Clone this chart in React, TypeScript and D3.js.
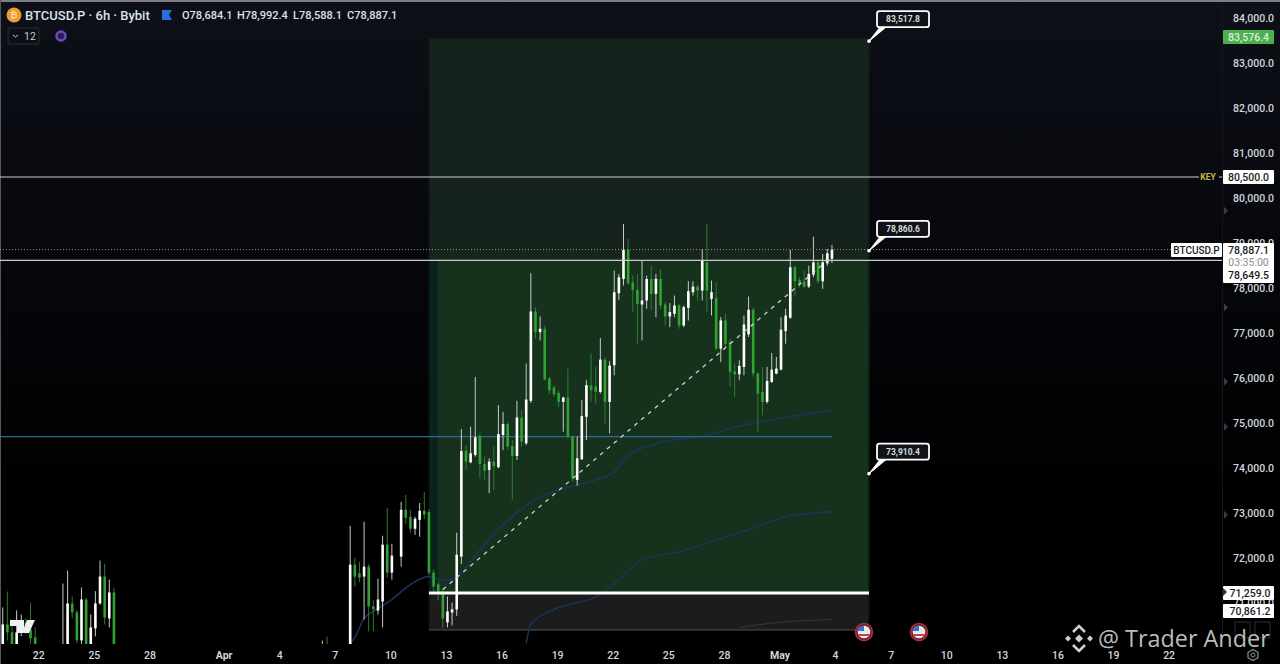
import * as d3 from "d3";

type Ohlc = [number, number, number, number];

// Candles as open, high, low, close. null = no visible bar.
const marchStart = "2025-03-20T00:00:00Z";
const marchCandles: (Ohlc | null)[] = [
  [69800, 70937, 69800, 70561], [70561, 71292, 70200, 70384], [70384, 70672, 69800, 69900], [69900, 70871, 69800, 70384],
  [70384, 70782, 70300, 70600], [70600, 70700, 70350, 70450], [70450, 71048, 70100, 70250], [70273, 70500, 69800, 69900],
  null, null, null, null, null,
  [69800, 71469, 69800, 69850], [69900, 71757, 69800, 71026], [71026, 71181, 70700, 70827], [70827, 70880, 70140, 70207],
  [70207, 71380, 70100, 71115], [71115, 71150, 69800, 69900], [69900, 70782, 69800, 70495], [70473, 71300, 70295, 71026],
  [71026, 71978, 71000, 71624], [71624, 71911, 70561, 70716], [70694, 71557, 70495, 71270], [71270, 71380, 69800, 69900],
];

const earlyAprilStart = "2025-04-06T06:00:00Z";
const earlyAprilCandles: (Ohlc | null)[] = [
  [70000, 70200, 69800, 70050], [70050, 70290, 69800, 70000],
];

const aprilStart = "2025-04-07T18:00:00Z";
const aprilCandles: (Ohlc | null)[] = [
  [69900, 72753, 69800, 71889], [71889, 72044, 71402, 71624], [71700, 71950, 71500, 71600], [71624, 72841, 70672, 71845],
  [71845, 71900, 70406, 70960], [70960, 71100, 70400, 70900], [70870, 71579, 70782, 71115], [71070, 72531, 70495, 72332],
  [72332, 73151, 71600, 71712], [71712, 72354, 71557, 72089], null, [72067, 73284, 71845, 73107],
  [73107, 73439, 72800, 72930], [72950, 73100, 72600, 72686], [72686, 72950, 72550, 72908], [72885, 73260, 72509, 73085],
  [73085, 73500, 72900, 73000], [73063, 73130, 71650, 71712], [71712, 71780, 71300, 71402], [71450, 71500, 71100, 71292],
  [71292, 71350, 70480, 70694], [70605, 71181, 70495, 70849], [70827, 71048, 70539, 70893], [70893, 72598, 70750, 72110],
  [72067, 74900, 71900, 74413], [74421, 74546, 73993, 74177], [74162, 74952, 74140, 74362], [74325, 76059, 74290, 74716],
  [74745, 74804, 73808, 74125], [74125, 74288, 73771, 73978], [73993, 74251, 73476, 74177], [74177, 74509, 73550, 74081],
  [74052, 75432, 74030, 74790], [74767, 75284, 74435, 75011], [75011, 75063, 74435, 74509], [74524, 74657, 73328, 74303],
  [74303, 75528, 74214, 75158], [75158, 75321, 74509, 74620], [74583, 76354, 74546, 75557], [75528, 78362, 75483, 77513],
  [77513, 77609, 76908, 77055], [77055, 77402, 76871, 77129], [77129, 77203, 75985, 76000], [76022, 76059, 75690, 75764],
  [75823, 75875, 75616, 75675], [75705, 75764, 75395, 75505], [75505, 75616, 74841, 75601], [75601, 76244, 74694, 74731],
  [74731, 74767, 73734, 73808], [73771, 74731, 73638, 74251], [74229, 75542, 74214, 75188], [75173, 75985, 74657, 75875],
  [75875, 76576, 75505, 75764], [75852, 76280, 75468, 75727], [75727, 76922, 75690, 76443], [76443, 76502, 75026, 75505],
  [75505, 76413, 74804, 76310], [76317, 78421, 76096, 77941], [77919, 78347, 77771, 78273], [78236, 79454, 78088, 78878],
  [78878, 79122, 78111, 78140], [78162, 78310, 77498, 77993], [77993, 78347, 76797, 77683], [77668, 78642, 76871, 77756],
  [77756, 78310, 77572, 78236], [78236, 78531, 77535, 77904], [77904, 78347, 77387, 78236], [78236, 78457, 77572, 77646],
  [77668, 77720, 77203, 77402], [77402, 77697, 77166, 77498], [77461, 77867, 77387, 77646], [77646, 77683, 77129, 77203],
  [77203, 77646, 77166, 77609], [77594, 78184, 77314, 77963], [77941, 78184, 77867, 78066], [78066, 78111, 77756, 77978],
  [77978, 78900, 77756, 78642], [78605, 79454, 77498, 77978], [77793, 78199, 77424, 77941], [77815, 78162, 76649, 76686],
  [76686, 77387, 76391, 77314], [77314, 77461, 76723, 76797], [76834, 76908, 75838, 76170], [76185, 76354, 75616, 76118],
  [76118, 76428, 75985, 76303], [76281, 77424, 76096, 77225], [77004, 77845, 76945, 77550], [77550, 77609, 76059, 76133],
  [76133, 76170, 74841, 75690], [75727, 76280, 75210, 75505], [75505, 76280, 75468, 75970], [75948, 76590, 75926, 76221],
  [76133, 76502, 76118, 76244], [76221, 77387, 76207, 77107], [77077, 77572, 76797, 77424], [77373, 78878, 77350, 78494],
  [78494, 78531, 77867, 78184], [78214, 78273, 78052, 78111], [78184, 78421, 78037, 78066], [78066, 78531, 78037, 78347],
  [78332, 79173, 78273, 78605], [78605, 78679, 78140, 78184], [78184, 78790, 78015, 78605], [78583, 78900, 78531, 78804],
  [78684, 78992.4, 78588.1, 78887.1],
];

// Moving averages, date then value
const fastMa: [string, number][] = [
  ["2025-04-07T18:00Z", 70140], ["2025-04-08T00:00Z", 70273], ["2025-04-08T12:00Z", 70694], ["2025-04-09T00:00Z", 70849],
  ["2025-04-10T00:00Z", 71115], ["2025-04-11T00:00Z", 71447], ["2025-04-12T00:00Z", 71624], ["2025-04-12T18:00Z", 71535],
  ["2025-04-13T12:00Z", 71602], ["2025-04-14T00:00Z", 71823], ["2025-04-15T00:00Z", 72332], ["2025-04-16T00:00Z", 72775],
  ["2025-04-18T00:00Z", 73395], ["2025-04-20T00:00Z", 73661], ["2025-04-22T00:00Z", 73948], ["2025-04-22T12:00Z", 74214],
  ["2025-04-24T00:00Z", 74546], ["2025-04-27T00:00Z", 74768], ["2025-04-29T00:00Z", 74989], ["2025-05-01T00:00Z", 75144],
  ["2025-05-03T18:00Z", 75321],
];
const slowMa: [string, number][] = [
  ["2025-04-17T06:00Z", 70140], ["2025-04-17T12:00Z", 70561], ["2025-04-18T18:00Z", 70893], ["2025-04-21T06:00Z", 71225],
  ["2025-04-22T06:00Z", 71557], ["2025-04-23T12:00Z", 72000], ["2025-04-25T12:00Z", 72177], ["2025-04-27T06:00Z", 72399],
  ["2025-04-29T06:00Z", 72664], ["2025-05-01T12:00Z", 72974], ["2025-05-03T18:00Z", 73063],
];
const longMa: [string, number][] = [
  ["2025-04-28T18:00Z", 70495], ["2025-05-01T12:00Z", 70627], ["2025-05-03T18:00Z", 70670],
];

const priceTicks = [84000, 83000, 82000, 81000, 80000, 79000, 78000, 77000, 76000, 75000, 74000, 73000, 72000, 71000];
const timeTicks: [string, string][] = [
  ["2025-03-22", "22"], ["2025-03-25", "25"], ["2025-03-28", "28"], ["2025-04-01", "Apr"], ["2025-04-04", "4"],
  ["2025-04-07", "7"], ["2025-04-10", "10"], ["2025-04-13", "13"], ["2025-04-16", "16"], ["2025-04-19", "19"],
  ["2025-04-22", "22"], ["2025-04-25", "25"], ["2025-04-28", "28"], ["2025-05-01", "May"], ["2025-05-04", "4"],
  ["2025-05-07", "7"], ["2025-05-10", "10"], ["2025-05-13", "13"], ["2025-05-16", "16"], ["2025-05-19", "19"],
  ["2025-05-22", "22"],
];

const calloutPrices = [83517.8, 78860.6, 73910.4];
const axisMarkerPrices = [79750, 77600, 75950, 74950, 73000];
const ohlcLabels: [string, number][] = [["O78,684.1", 182], ["H78,992.4", 237], ["L78,588.1", 293], ["C78,887.1", 347]];

const keyLevel = 80500;
const lastClose = 78887.1;
const prevLevel = 78649.5;
const blueLevel = 74731;
const entryPrice = 71259;
const targetPrice = 83576.4;
const stopPrice = 70440;
const boxStart = "2025-04-12T00:00Z";
const boxEnd = "2025-05-05T18:00Z";
const lastBar = "2025-05-03T18:00Z";
const trendStart: [string, number] = ["2025-04-12T18:00Z", 71336];
const trendEnd: [string, number] = ["2025-05-03T18:00Z", 78731];

const font = "Roboto, 'Liberation Sans', sans-serif";
const fmt = d3.format(",.1f");

const x = d3.scaleUtc()
  .domain([new Date("2025-04-01T00:00Z"), new Date("2025-05-01T00:00Z")])
  .range([225.1, 781]);
const y = d3.scaleLinear().domain([80500, 71259]).range([177, 593]);

const maLine = d3.line<[string, number]>()
  .x(d => x(new Date(d[0])))
  .y(d => y(d[1]))
  .curve(d3.curveMonotoneX);

function withDates(start: string, rows: (Ohlc | null)[]) {
  const t0 = new Date(start).getTime();
  return rows.map((r, i) => ({ date: new Date(t0 + i * 6 * 3600 * 1000), r }));
}
const bars = [
  ...withDates(marchStart, marchCandles),
  ...withDates(earlyAprilStart, earlyAprilCandles),
  ...withDates(aprilStart, aprilCandles),
];

function PriceBox(props: { top: number; h: number; left?: number; w?: number; fill?: string }) {
  const { top, h, left = 1223, w = 51, fill = "#ffffff" } = props;
  return <rect x={left} y={top} width={w} height={h} fill={fill} rx={1} />;
}

export default function App() {
  const boxX0 = x(new Date(boxStart));
  const boxX1 = x(new Date(boxEnd));
  const lastX = x(new Date(lastBar));
  return (
    <svg width={1280} height={664} style={{ position: "absolute", left: 0, top: 0, display: "block" }} fontFamily={font}>
      <defs>
        <linearGradient id="bg" x1="0" y1="0" x2="0" y2="1">
          <stop offset="0" stopColor="#0d1018" />
          <stop offset="0.45" stopColor="#05060a" />
          <stop offset="0.75" stopColor="#000000" />
        </linearGradient>
        <clipPath id="pane"><rect x={0} y={0} width={1222} height={644} /></clipPath>
        <filter id="soft"><feGaussianBlur stdDeviation="0.45" /></filter>
        <filter id="edge"><feGaussianBlur stdDeviation="1" /></filter>
      </defs>
      <rect width={1280} height={664} fill="url(#bg)" />
      <rect width={1280} height={2} fill="#7d7f84" />
      <rect width={1} height={664} fill="#55575c" />
      <line x1={1222.5} x2={1222.5} y1={2} y2={644} stroke="#14161c" />

      <g clipPath="url(#pane)">
        {/* long position box */}
        <g filter="url(#edge)">
          <rect x={boxX0} y={y(targetPrice)} width={boxX1 - boxX0} height={y(lastClose) - y(targetPrice)} fill="#13211c" />
          <rect x={boxX0} y={y(lastClose)} width={boxX1 - boxX0} height={y(prevLevel) - y(lastClose)} fill="#16281c" />
          <rect x={boxX0} y={y(prevLevel)} width={boxX1 - boxX0} height={y(entryPrice) - y(prevLevel)} fill="#18301d" />
          <rect x={boxX0} y={y(prevLevel)} width={9} height={y(entryPrice) - y(prevLevel)} fill="#10231c" />
          <rect x={boxX0} y={y(entryPrice)} width={boxX1 - boxX0} height={y(stopPrice) - y(entryPrice)} fill="#1b1c1d" />
        </g>
        <line x1={boxX0} x2={boxX1} y1={y(stopPrice)} y2={y(stopPrice)} stroke="#333536" strokeWidth={2} />

        <path d={maLine(longMa) ?? ""} fill="none" stroke="#2a3440" strokeWidth={1.2} />
        <path d={maLine(slowMa) ?? ""} fill="none" stroke="#1a3560" strokeWidth={1.4} />
        <path d={maLine(fastMa) ?? ""} fill="none" stroke="#1c3560" strokeWidth={1.5} />

        <line x1={0} x2={lastX} y1={y(blueLevel)} y2={y(blueLevel)} stroke="#2c6a8e" strokeWidth={1.3} />

        {/* candles */}
        <g filter="url(#soft)">
          {bars.map(({ date, r }, i) => {
            if (!r) return null;
            const [o, h, l, c] = r;
            const up = c >= o;
            const cx = x(date);
            const top = y(Math.max(o, c));
            const bottom = y(Math.min(o, c));
            return (
              <g key={i}>
                <line x1={cx} x2={cx} y1={y(h)} y2={y(l)} stroke={up ? "#c8cac8" : "#2f7a33"} strokeWidth={1} />
                <rect x={cx - 1.3} y={top} width={2.6} height={Math.max(bottom - top, 1)} fill={up ? "#ffffff" : "#2ea332"} />
              </g>
            );
          })}
        </g>

        <line
          x1={x(new Date(trendStart[0]))} y1={y(trendStart[1])}
          x2={x(new Date(trendEnd[0]))} y2={y(trendEnd[1])}
          stroke="#d0d4cc" strokeWidth={1.3} strokeDasharray="4 5"
        />

        <line x1={boxX0} x2={boxX1} y1={y(entryPrice)} y2={y(entryPrice)} stroke="#ffffff" strokeWidth={3} />
      </g>

      {/* levels */}
      <line x1={0} x2={1199} y1={y(keyLevel)} y2={y(keyLevel)} stroke="#c9cbc9" strokeWidth={1.2} />
      <line x1={0} x2={1222} y1={y(prevLevel)} y2={y(prevLevel)} stroke="#c9cbc9" strokeWidth={1.2} />
      <line x1={0} x2={1171} y1={y(lastClose)} y2={y(lastClose)} stroke="#9a9c9a" strokeWidth={1} strokeDasharray="1 2" />

      {/* price axis */}
      {priceTicks.map(t => (
        <text key={t} x={1233} y={y(t) - 1.5} dy="0.35em" fontSize={10.5} fontWeight={500} fill="#d4d6da">{fmt(t)}</text>
      ))}
      {axisMarkerPrices.map(p => (
        <path key={p} d={`M${1224},${y(p) - 4}L${1228},${y(p)}L${1224},${y(p) + 4}Z`} fill="#3a3d42" />
      ))}

      {/* time axis */}
      {timeTicks.map(([d, label], i) => (
        <text key={i} x={x(new Date(d + "T00:00Z")) - 1} y={659} textAnchor="middle" fontSize={10.5}
          fontWeight={label === "Apr" || label === "May" ? 700 : 500} fill="#d4d6da">{label}</text>
      ))}

      {/* callouts */}
      {calloutPrices.map(p => {
        const py = y(p);
        const bx = boxX1 + 8;
        const by = py - 30;
        return (
          <g key={p}>
            <path d={`M${boxX1},${py}L${bx + 3},${by + 16}L${bx + 9},${by + 16}Z`} fill="#ffffff" stroke="#ffffff" strokeWidth={1} strokeLinejoin="round" />
            <circle cx={boxX1} cy={py} r={1.8} fill="#ffffff" />
            <rect x={bx} y={by} width={52} height={16} rx={2.5} fill="#10141a" stroke="#ffffff" strokeWidth={1.8} />
            <text x={bx + 26} y={by + 8} dy="0.35em" textAnchor="middle" fontSize={8.5} fontWeight={700} fill="#d8dadc">{fmt(p)}</text>
          </g>
        );
      })}

      {/* axis labels */}
      <PriceBox top={30} h={14} fill="#4caf50" />
      <text x={1248.5} y={37} dy="0.35em" textAnchor="middle" fontSize={10.5} fontWeight={500} fill="#d8f0da">{fmt(targetPrice)}</text>
      <text x={1208} y={177} dy="0.35em" textAnchor="middle" fontSize={8.5} fontWeight={700} fill="#c9b84a">KEY</text>
      <line x1={1219} x2={1222} y1={177} y2={177} stroke="#c9cbc9" />
      <PriceBox top={170} h={14} />
      <text x={1248.5} y={177} dy="0.35em" textAnchor="middle" fontSize={10.5} fontWeight={500} fill="#222">{fmt(keyLevel)}</text>
      <PriceBox top={243} h={14} left={1171} w={51} />
      <text x={1196.5} y={250} dy="0.35em" textAnchor="middle" fontSize={10} fontWeight={500} fill="#222">BTCUSD.P</text>
      <PriceBox top={243} h={40} />
      <text x={1248.5} y={250} dy="0.35em" textAnchor="middle" fontSize={10.5} fontWeight={500} fill="#222">{fmt(lastClose)}</text>
      <text x={1248.5} y={262} dy="0.35em" textAnchor="middle" fontSize={10.5} fill="#8a8c90">03:35:00</text>
      <text x={1248.5} y={275} dy="0.35em" textAnchor="middle" fontSize={10.5} fontWeight={500} fill="#222">{fmt(prevLevel)}</text>
      <PriceBox top={586} h={14} />
      <text x={1250} y={593} dy="0.35em" textAnchor="middle" fontSize={10.5} fontWeight={500} fill="#222">{fmt(71259)}</text>
      <path d="M1223,588L1227,592L1223,596Z" fill="#333" />
      <PriceBox top={604} h={14} />
      <text x={1250} y={611} dy="0.35em" textAnchor="middle" fontSize={10.5} fontWeight={500} fill="#222">{fmt(70861.2)}</text>

      {/* header */}
      <circle cx={14} cy={15} r={7.5} fill="#f0992e" />
      <text x={14} y={15} dy="0.35em" textAnchor="middle" fontSize={9} fontWeight={700} fill="#ffd9a0">₿</text>
      <text x={25} y={15} dy="0.35em" fontSize={13} fontWeight={500} fill="#dfe1e5">BTCUSD.P · 6h · Bybit</text>
      <path d="M162,10H172L169,15L172,20H162Z" fill="#2a6fe0" />
      {ohlcLabels.map(([label, lx]) => (
        <text key={label} x={lx} y={15} dy="0.35em" fontSize={11} fontWeight={500} fill="#dfe1e5">{label}</text>
      ))}
      <rect x={8} y={28} width={31} height={16} rx={2} fill="none" stroke="#2c2f36" />
      <path d="M13,35L15.5,37L18,35" fill="none" stroke="#c8cad0" />
      <text x={24} y={36} dy="0.35em" fontSize={10.5} fill="#c8cad0">12</text>
      <circle cx={61} cy={36} r={4.5} fill="#2a2050" stroke="#6f4cb8" strokeWidth={2.5} />

      {/* TradingView mark */}
      <path d="M10,620H24V633H17V626H10Z M27,620H35L29,633H22Z" fill="#f0f0f0" />

      {/* event flags */}
      {[864, 919].map(cx => (
        <g key={cx}>
          <circle cx={cx} cy={632} r={8.5} fill="#6b1f28" stroke="#b03040" strokeWidth={1.5} />
          <circle cx={cx} cy={632} r={6.3} fill="#e9e9ee" />
          <path d={`M${cx - 6},${630}A6.3,6.3 0 0 1 ${cx},${625.7}V${631}H${cx - 6}Z`} fill="#3d6fd0" />
          <path d={`M${cx - 5},${635}H${cx + 5}`} stroke="#c84050" strokeWidth={2} />
        </g>
      ))}

      {/* small chart buttons, settings */}
      <rect x={1235} y={622} width={15} height={16} fill="none" stroke="#2a2c30" />
      <rect x={1255} y={622} width={15} height={16} fill="none" stroke="#2a2c30" />
      <path d="M1253,649.5L1258,652.3V657.7L1253,660.5L1248,657.7V652.3Z" fill="none" stroke="#8e9094" strokeWidth={1.2} />
      <circle cx={1253} cy={655} r={2} fill="none" stroke="#8e9094" />

      {/* watermark */}
      <g fill="none" stroke="#cfd0d0" strokeWidth={2.6}>
        <path d="M1073,632L1079,626L1085,632" />
        <path d="M1073,645L1079,651L1085,645" />
      </g>
      <g fill="#cfd0d0">
        <path d="M1079,634.5L1083,638.5L1079,642.5L1075,638.5Z" />
        <path d="M1065,638.5L1068,635.5L1071,638.5L1068,641.5Z" />
        <path d="M1087,638.5L1090,635.5L1093,638.5L1090,641.5Z" />
      </g>
      <text x={1098} y={647} fontSize={23.4} fontFamily="'Open Sans', sans-serif" fill="#cfd0d0" fillOpacity={0.92}>@ Trader Ander</text>
    </svg>
  );
}
